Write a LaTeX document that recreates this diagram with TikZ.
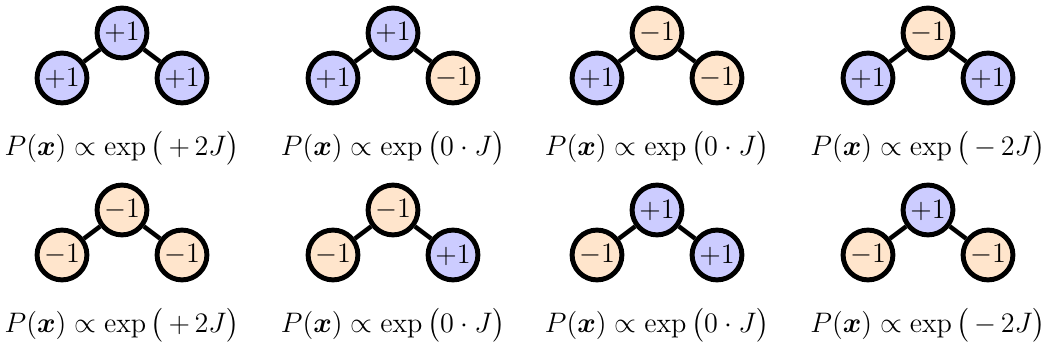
\documentclass[tikz,border=0pt]{standalone}
\usepackage{amsmath,bm}
\tikzset{
  spin/.style={circle,draw=black,line width=2.1pt,minimum size=21.2pt,inner sep=0pt,font=\large},
  up/.style={spin,fill=blue!20},
  dn/.style={spin,fill=orange!20},
  bond/.style={line width=1.9pt},
  lbl/.style={font=\fontsize{11.7}{14}\selectfont}
}
\begin{document}
\begin{tikzpicture}[x=0.4255pt,y=-0.4255pt]
\useasboundingbox (0,0) rectangle (1042,351);
\foreach \n/\cx/\ty/\ts/\ls/\rs/\tl/\ll/\rl/\lab in {
  a/122/33/up/up/up/+1/+1/+1/{\big(\,{+}\,2J\big)},
  b/393/33/up/up/dn/+1/+1/-1/{\big(0\cdot J\big)},
  c/657/33/dn/up/dn/-1/+1/-1/{\big(0\cdot J\big)},
  d/928/33/dn/up/up/-1/+1/+1/{\big(\,{-}\,2J\big)},
  e/122/210/dn/dn/dn/-1/-1/-1/{\big(\,{+}\,2J\big)},
  f/393/210/dn/dn/up/-1/-1/+1/{\big(0\cdot J\big)},
  g/657/210/up/dn/up/+1/-1/+1/{\big(0\cdot J\big)},
  h/928/210/up/dn/dn/+1/-1/-1/{\big(\,{-}\,2J\big)}}{
  \node[\ts] (t\n) at (\cx,\ty) {$\tl$};
  \node[\ls] (l\n) at ([xshift=-60*0.4255pt,yshift=-45*0.4255pt]t\n.center) {$\ll$};
  \node[\rs] (r\n) at ([xshift=60*0.4255pt,yshift=-45*0.4255pt]t\n.center) {$\rl$};
  \draw[bond] (t\n) -- (l\n);
  \draw[bond] (t\n) -- (r\n);
  \node[lbl] (p\n) at ([yshift=-115*0.4255pt]t\n.center) {$P(\bm{x})\propto\exp\lab$};
}
\end{tikzpicture}
\end{document}
